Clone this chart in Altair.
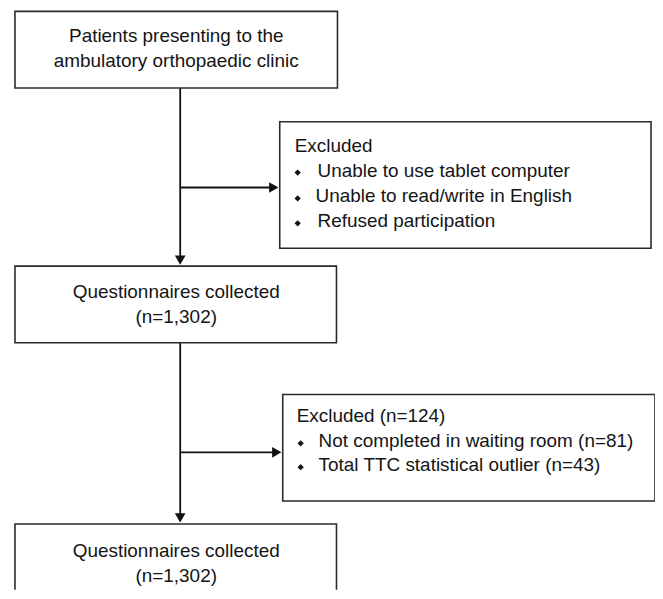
import altair as alt
import pandas as pd

# ---- boxes (pixel layout of the flow diagram) ----
box_names = ["start", "collected1", "excl1", "excl2", "collected2"]
box_x0 = [15, 15, 281, 284, 15]
box_x1 = [339, 338, 654, 658, 338]
box_y0 = [10, 266, 121, 395, 525]
box_y1 = [87, 343, 248, 502, 640]

# ---- centered texts ----
center_text = ["Patients presenting to the", "ambulatory orthopaedic clinic",
               "Questionnaires collected", "(n=1,302)",
               "Questionnaires collected", "(n=1,302)"]
center_x = [177, 177, 177, 177, 177, 177]
center_y = [41, 66, 298, 323, 558, 583]

# ---- left-aligned texts ----
left_text = ["Excluded", "Unable to use tablet computer", "Unable to read/write in English",
             "Refused participation",
             "Excluded (n=124)", "Not completed in waiting room (n=81)",
             "Total TTC statistical outlier (n=43)"]
left_x = [296, 319, 317, 319, 298, 320, 320]
left_y = [151, 176, 202, 227, 423, 448, 472]

# ---- bullets ----
bullet_x = [299, 299, 299, 302, 302]
bullet_y = [172, 198, 223, 444, 468]

# ---- connector lines ----
line_x = [181, 181, 181, 181]
line_y = [87, 343, 187, 453]
line_x2 = [181, 181, 275, 278]
line_y2 = [260, 519, 187, 453]

# ---- arrow heads ----
head_x = [181, 181, 275, 278]
head_y = [260, 519, 187, 453]
head_shape = ["triangle-down", "triangle-down", "triangle-right", "triangle-right"]

W, H = 650, 583
xs = alt.Scale(domain=[8, 8 + W], nice=False, zero=False)
ys = alt.Scale(domain=[8, 8 + H], nice=False, zero=False, reverse=True)
FONT = "Liberation Sans"
INK = "#141414"

boxes = pd.DataFrame(dict(name=box_names, x0=box_x0, x1=box_x1, y0=box_y0, y1=box_y1))
ctext = pd.DataFrame(dict(t=center_text, x=center_x, y=center_y))
ltext = pd.DataFrame(dict(t=left_text, x=left_x, y=left_y))
bul = pd.DataFrame(dict(x=bullet_x, y=bullet_y))
lines = pd.DataFrame(dict(x=line_x, y=line_y, x2=line_x2, y2=line_y2))
heads = pd.DataFrame(dict(x=head_x, y=head_y, s=head_shape))

box_layer = alt.Chart(boxes).mark_rect(
    fill="white", stroke="#2a2a2a", strokeWidth=1.6, clip=True
).encode(
    x=alt.X("x0:Q", scale=xs, axis=None), x2="x1:Q",
    y=alt.Y("y0:Q", scale=ys, axis=None), y2="y1:Q",
)

line_layer = alt.Chart(lines).mark_rule(color="#111111", strokeWidth=1.8).encode(
    x=alt.X("x:Q", scale=xs, axis=None), x2="x2:Q",
    y=alt.Y("y:Q", scale=ys, axis=None), y2="y2:Q",
)

head_layer = alt.Chart(heads).mark_point(
    filled=True, color="#111111", size=115, opacity=1
).encode(
    x=alt.X("x:Q", scale=xs, axis=None),
    y=alt.Y("y:Q", scale=ys, axis=None),
    shape=alt.Shape("s:N", scale=None, legend=None),
)

ctext_layer = alt.Chart(ctext).mark_text(
    font=FONT, fontSize=19, color=INK, align="center", baseline="alphabetic"
).encode(
    x=alt.X("x:Q", scale=xs, axis=None),
    y=alt.Y("y:Q", scale=ys, axis=None),
    text="t:N",
)

ltext_layer = alt.Chart(ltext).mark_text(
    font=FONT, fontSize=19, color=INK, align="left", baseline="alphabetic"
).encode(
    x=alt.X("x:Q", scale=xs, axis=None),
    y=alt.Y("y:Q", scale=ys, axis=None),
    text="t:N",
)

bullet_layer = alt.Chart(bul).mark_point(
    shape="diamond", filled=True, color=INK, size=40, opacity=1
).encode(
    x=alt.X("x:Q", scale=xs, axis=None),
    y=alt.Y("y:Q", scale=ys, axis=None),
)

chart = alt.layer(
    line_layer, box_layer, head_layer, ctext_layer, ltext_layer, bullet_layer
).properties(
    width=W, height=H, padding=0, autosize=alt.AutoSizeParams(type="none"),
    background="white",
).configure_view(stroke=None)

chart.save("out.html", embed_options={"renderer": "svg", "actions": False})
